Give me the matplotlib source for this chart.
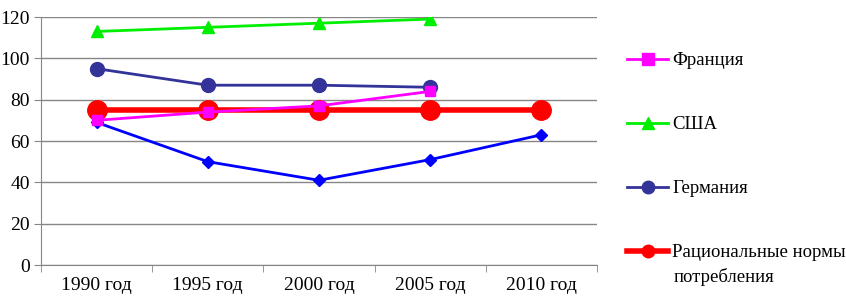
import numpy as np
import matplotlib.pyplot as plt
from matplotlib.lines import Line2D

# Data
years = ['1990 год', '1995 год', '2000 год', '2005 год', '2010 год']
russia = [69, 50, 41, 51, 63]
france = [70, 74, 77, 84]
usa = [113, 115, 117, 119]
germany = [95, 87, 87, 86]
norm = [75, 75, 75, 75, 75]

plt.rcParams['font.family'] = 'serif'
plt.rcParams['font.serif'] = ['Liberation Serif', 'DejaVu Serif']

fig = plt.figure(figsize=(8.46, 2.96), dpi=100)
ax = fig.add_axes([41 / 846, 31 / 296, 556 / 846, 248 / 296])

x = np.arange(len(years))

ax.plot(x[:len(russia)], russia, color='#0000FF', marker='D', markersize=6,
        linewidth=2, zorder=3)
ax.plot(x[:len(france)], france, color='#FF00FF', marker='s', markersize=7,
        linewidth=2, zorder=4)
ax.plot(x[:len(usa)], usa, color='#00EE00', marker='^', markersize=8,
        linewidth=2, zorder=3)
ax.plot(x[:len(germany)], germany, color='#333399', marker='o', markersize=10,
        linewidth=2, zorder=3)
ax.plot(x[:len(norm)], norm, color='#FF0000', marker='o', markersize=14,
        linewidth=4, zorder=2)

ax.set_xlim(-0.5, len(years) - 0.5)
ax.set_ylim(0, 120)
ax.set_yticks(np.arange(0, 121, 20))
ax.set_xticks(x)
ax.set_xticklabels(years)
ax.set_xticks(np.arange(-0.5, len(years)), minor=True)
ax.tick_params(axis='x', which='major', length=0, labelsize=14, pad=9)
ax.tick_params(axis='x', which='minor', length=5, color='#868686')
ax.tick_params(axis='y', length=5, color='#868686', labelsize=14, pad=3)

ax.yaxis.grid(True, color='#868686', linewidth=1)
ax.set_axisbelow(True)
for side in ['top', 'right']:
    ax.spines[side].set_visible(False)
for side in ['left', 'bottom']:
    ax.spines[side].set_color('#868686')

# legend (the blue diamond series has no entry in the original)
handles = [
    Line2D([], [], color='#FF00FF', marker='s', markersize=8, linewidth=2),
    Line2D([], [], color='#00EE00', marker='^', markersize=8, linewidth=2),
    Line2D([], [], color='#333399', marker='o', markersize=9, linewidth=2),
    Line2D([], [], color='#FF0000', marker='o', markersize=9, linewidth=4),
]
labels = ['Франция', 'США', 'Германия', 'Рациональные нормы']
ax.legend(handles, labels, loc='upper left', bbox_to_anchor=(627 / 846, 1 - 52 / 296),
          bbox_transform=fig.transFigure, frameon=False, fontsize=13.5,
          handlelength=2.2, handletextpad=0.2, labelspacing=2.5,
          borderaxespad=0, borderpad=0)
fig.text(674 / 846, 1 - 277 / 296, 'потребления', fontsize=13.5, va='center')

fig.savefig('out.png', dpi=100)
